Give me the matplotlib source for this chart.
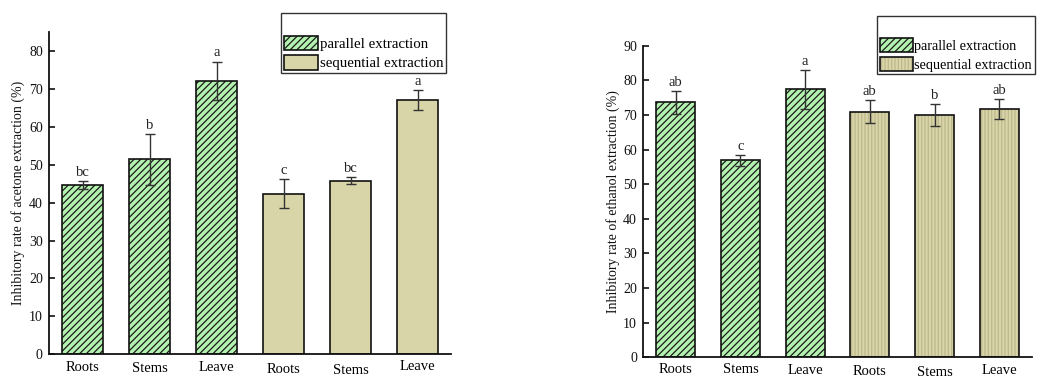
import matplotlib
matplotlib.use("Agg")
import matplotlib.pyplot as plt
from matplotlib.patches import Patch
from matplotlib.legend_handler import HandlerTuple
import numpy as np

plt.rcParams['font.family'] = ['Liberation Serif', 'DejaVu Serif']
plt.rcParams['hatch.linewidth'] = 0.9

# ---- data ----
categories = ["Roots", "Stems", "Leave", "Roots", "Stems", "Leave"]
series_names = ["parallel extraction", "sequential extraction"]

acetone_vals = [44.7, 51.4, 72.1, 42.4, 45.8, 67.1]
acetone_err = [1.0, 6.7, 5.1, 3.7, 1.0, 2.7]
acetone_letters = ["bc", "b", "a", "c", "bc", "a"]

ethanol_vals = [73.7, 56.9, 77.4, 70.9, 70.0, 71.8]
ethanol_err = [3.3, 1.6, 5.6, 3.3, 3.2, 2.9]
ethanol_letters = ["ab", "c", "a", "ab", "b", "ab"]

green = "#B4F2B0"
tan = "#D8D5A8"

fig = plt.figure(figsize=(10.41, 3.77), dpi=100)
W, H = 1041, 377

def make_panel(rect, vals, errs, letters, ylim, yticks, ylabel, seq_hatch,
               seq_hatch_color, label_offsets, label_pad_px, legend_anchor,
               labelpad, legend_fs):
    ax = fig.add_axes(rect)
    x = np.arange(len(vals))
    n_par = 3
    faces = [green] * n_par + [tan] * (len(vals) - n_par)
    hatches = ["/////"] * n_par + [seq_hatch] * (len(vals) - n_par)
    hcolors = ["#1a1a1a"] * n_par + [seq_hatch_color] * (len(vals) - n_par)
    # fill + hatch layer
    for i in range(len(vals)):
        ax.bar(x[i], vals[i], width=0.6, color=faces[i], hatch=hatches[i],
               edgecolor=hcolors[i], linewidth=0, zorder=2)
    # outline layer
    ax.bar(x, vals, width=0.6, facecolor="none", edgecolor="#111111",
           linewidth=1.2, zorder=3)
    ax.errorbar(x, vals, yerr=errs, fmt="none", ecolor="#333333",
                elinewidth=1.0, capsize=3.5, capthick=1.0, zorder=4)
    for i in range(len(vals)):
        ax.annotate(letters[i], (x[i], vals[i] + errs[i]), xytext=(0, 1.5),
                    textcoords="offset points", ha="center", va="bottom",
                    fontsize=10.5, color="#222222")
    ax.set_xlim(-0.5, len(vals) - 0.5)
    ax.set_ylim(*ylim)
    ax.set_yticks(yticks)
    ax.spines["top"].set_visible(False)
    ax.spines["right"].set_visible(False)
    for s in ("left", "bottom"):
        ax.spines[s].set_linewidth(1.3)
        ax.spines[s].set_color("#111111")
    ax.tick_params(axis="y", direction="in", length=4, width=1.2,
                   pad=4.5, labelsize=10, colors="#111111")
    ax.tick_params(axis="x", length=0, pad=label_pad_px * 0.72, labelsize=10.5)
    ax.set_xticks(x, categories)
    ax_h_px = rect[3] * H
    for lab, dy in zip(ax.get_xticklabels(), label_offsets):
        lab.set_y(-dy / ax_h_px)
    ax.set_ylabel(ylabel, fontsize=10, labelpad=labelpad, color="#111111")

    # legend
    h_par = (Patch(facecolor=green, hatch="/////", edgecolor="#1a1a1a", linewidth=0),
             Patch(facecolor="none", edgecolor="#111111", linewidth=1.2))
    h_seq = (Patch(facecolor=tan, hatch=seq_hatch, edgecolor=seq_hatch_color, linewidth=0),
             Patch(facecolor="none", edgecolor="#111111", linewidth=1.2))
    leg = fig.legend([h_par, h_seq], series_names,
                     handler_map={tuple: HandlerTuple(ndivide=1, pad=0)},
                     loc="upper left", bbox_to_anchor=legend_anchor,
                     bbox_transform=fig.transFigure, borderaxespad=0,
                     title=" ", title_fontsize=12.5, fontsize=legend_fs,
                     frameon=True, fancybox=False, edgecolor="#333333",
                     framealpha=1, borderpad=0.2, handlelength=2.3,
                     handleheight=1.15, handletextpad=0.1, labelspacing=0.25)
    leg.get_frame().set_linewidth(1.0)
    return ax

# left panel
make_panel([49 / W, 22.7 / H, 402 / W, 322.3 / H],
           acetone_vals, acetone_err, acetone_letters,
           (0, 85), np.arange(0, 81, 10),
           "Inhibitory rate of acetone extraction (%)",
           "", tan, [0, 1.2, 0.3, 2.5, 3.2, -0.5], 6.5,
           (281 / W, 1 - 13 / H), 3, 10.7)

# right panel
make_panel([643.3 / W, 19.7 / H, 388.4 / W, 311.6 / H],
           ethanol_vals, ethanol_err, ethanol_letters,
           (0, 90), np.arange(0, 91, 10),
           "Inhibitory rate of ethanol extraction (%)",
           "|||||", "#BDB98C", [0, 0, 1.2, 1.6, 2.6, 1.2], 6.0,
           (877 / W, 1 - 15.7 / H), 2, 10.3)

fig.savefig("out.png", dpi=100)
